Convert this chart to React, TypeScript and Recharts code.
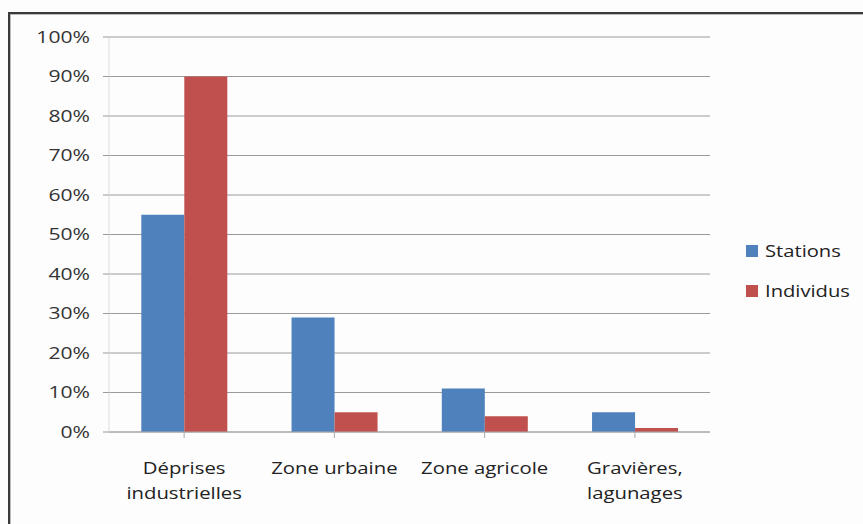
import React from "react";
import { BarChart, Bar, XAxis, YAxis, CartesianGrid } from "recharts";

const categories = ["Déprises\nindustrielles", "Zone urbaine", "Zone agricole", "Gravières,\nlagunages"];
const stations = [0.55, 0.29, 0.11, 0.05];
const individus = [0.9, 0.05, 0.04, 0.01];
const yTicks = [0, 0.1, 0.2, 0.3, 0.4, 0.5, 0.6, 0.7, 0.8, 0.9, 1];
const seriesNames = ["Stations", "Individus"];

const BLUE = "#4F81BD";
const RED = "#C0504D";
const FONT = "'Open Sans', 'Noto Sans', sans-serif";

const data = categories.map((name, i) => ({
  name,
  Stations: stations[i],
  Individus: individus[i],
}));

function CategoryTick({ x, y, payload }: any) {
  const lines = String(payload.value).split("\n");
  return (
    <g transform={`translate(${x},${y}) scale(1.27,1)`}>
      <text x={0} y={34} textAnchor="middle" fill="#222" fontSize={16} fontFamily={FONT}>
        {lines.map((l, i) => (
          <tspan key={i} x={0} dy={i === 0 ? 0 : 25}>
            {l}
          </tspan>
        ))}
      </text>
    </g>
  );
}

function PercentTick({ x, y, payload }: any) {
  return (
    <g transform={`translate(${x},${y}) scale(1.32,1)`}>
      <text x={0} y={0} dy="0.36em" textAnchor="end" fill="#333" fontSize={16} fontFamily={FONT}>
        {`${Math.round(payload.value * 100)}%`}
      </text>
    </g>
  );
}

export default function App() {
  const colors = [BLUE, RED];
  return (
    <div style={{ position: "absolute", left: 0, top: 0, width: 863, height: 524, background: "#fdfdfd", overflow: "hidden" }}>
      <div
        style={{
          position: "absolute",
          left: 8,
          top: 12,
          width: 900,
          height: 600,
          borderTop: "2px solid #3a3a3a",
          borderLeft: "2px solid #3a3a3a",
          boxShadow: "inset 1px 1px 0 #bbb",
        }}
      />
      <div style={{ position: "absolute", left: 0, top: 0 }}>
        <BarChart
          width={863}
          height={524}
          data={data}
          margin={{ top: 37, right: 153, bottom: 32, left: 30 }}
          barCategoryGap="21.5%"
          barGap={0}
        >
          <CartesianGrid vertical={false} stroke="#9a9a9a" />
          <XAxis
            dataKey="name"
            height={60}
            tick={<CategoryTick />}
            axisLine={{ stroke: "#aaa" }}
            tickLine={{ stroke: "#aaa" }}
            tickSize={6}
            interval={0}
          />
          <YAxis
            width={79}
            domain={[0, 1]}
            ticks={yTicks}
            tick={<PercentTick />}
            axisLine={{ stroke: "#ddd" }}
            tickLine={{ stroke: "#9a9a9a" }}
            tickSize={6}
            tickMargin={13}
          />
          <Bar dataKey="Stations" fill={BLUE} isAnimationActive={false} />
          <Bar dataKey="Individus" fill={RED} isAnimationActive={false} />
        </BarChart>
      </div>
      {/* legend on the right, beside the plot */}
      <div style={{ position: "absolute", left: 746, top: 231, fontFamily: FONT, fontSize: 16, color: "#222" }}>
        {seriesNames.map((s, i) => (
          <div key={s} style={{ display: "flex", alignItems: "center", height: 40 }}>
            <span style={{ width: 12, height: 12, background: colors[i], marginRight: 7 }} />
            <span style={{ display: "inline-block", transform: "scaleX(1.26)", transformOrigin: "left center" }}>{s}</span>
          </div>
        ))}
      </div>
    </div>
  );
}
